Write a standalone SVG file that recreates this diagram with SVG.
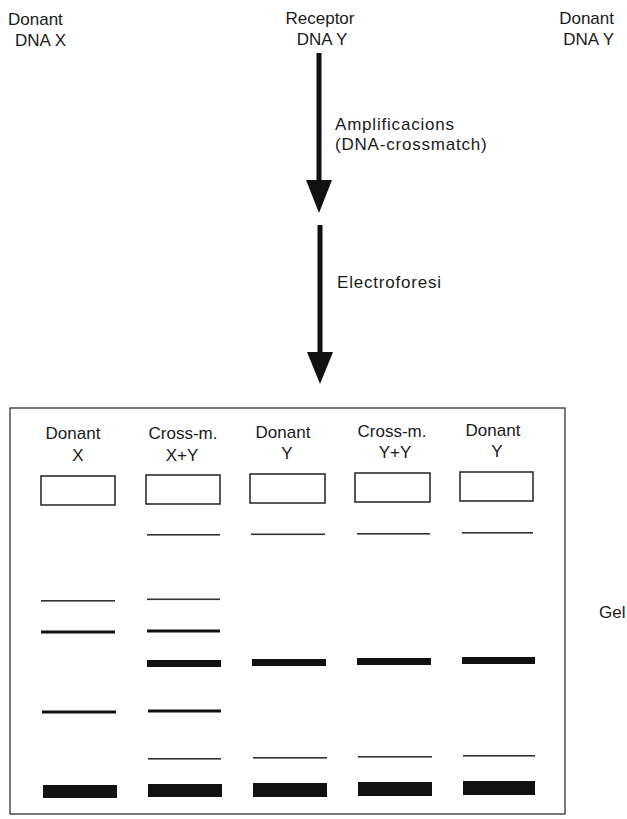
<svg xmlns="http://www.w3.org/2000/svg" width="627" height="819" viewBox="0 0 627 819">
<style>
text{font-family:"Liberation Sans",Arial,sans-serif;font-size:17px;fill:#1a1a1a}
.lbl{letter-spacing:0.8px}
.mid{text-anchor:middle}
.end{text-anchor:end}
.shaft{stroke:#111;stroke-width:5;fill:none}
.head{fill:#111}
.frame{fill:none;stroke:#333;stroke-width:1.3}
.well{fill:#fff;stroke:#222;stroke-width:1.5}
.thin{fill:#333}
.band{fill:#111}
</style>
<rect width="627" height="819" fill="#fff"/>
<g id="donorX">
<text x="8" y="25">Donant</text>
<text x="15" y="46">DNA X</text>
</g>
<g id="receptorY">
<text class="mid" x="320" y="24">Receptor</text>
<text class="mid" x="322" y="45">DNA Y</text>
</g>
<g id="donorY">
<text class="end" x="614" y="24">Donant</text>
<text class="end" x="614" y="45">DNA Y</text>
</g>
<g id="connectors">
<line class="shaft" x1="319" y1="53" x2="319" y2="182"/>
<polygon class="head" points="306,180 332,180 319,213"/>
<line class="shaft" x1="320" y1="225" x2="320" y2="354"/>
<polygon class="head" points="307,352 333,352 320,384"/>
</g>
<g id="labels">
<text class="lbl" x="335" y="130">Amplificacions</text>
<text class="lbl" x="335" y="150">(DNA-crossmatch)</text>
<text class="lbl" x="337" y="288">Electroforesi</text>
</g>
<g id="gel">
<rect class="frame" x="10" y="408" width="555" height="406"/>
<text x="599" y="618">Gel</text>
</g>
<g id="lane1">
<text class="mid" x="73" y="439">Donant</text>
<text class="mid" x="78" y="461">X</text>
<rect class="well" x="41" y="476" width="74" height="29"/>
<rect class="thin" x="41" y="600" width="74" height="1.6"/>
<rect class="band" x="41" y="630.5" width="74" height="3"/>
<rect class="band" x="42" y="710.5" width="74" height="3"/>
<rect class="band" x="43" y="785" width="74" height="13"/>
</g>
<g id="lane2">
<text class="mid" x="183" y="439">Cross-m.</text>
<text class="mid" x="182" y="461">X+Y</text>
<rect class="well" x="146" y="475" width="74" height="29"/>
<rect class="thin" x="147" y="534" width="73" height="1.6"/>
<rect class="thin" x="147" y="598.5" width="73" height="1.6"/>
<rect class="band" x="147" y="629.5" width="73" height="3"/>
<rect class="band" x="147" y="660" width="74" height="7"/>
<rect class="band" x="148" y="709.5" width="73" height="3"/>
<rect class="thin" x="148" y="758" width="73" height="1.6"/>
<rect class="band" x="148" y="784" width="74" height="13"/>
</g>
<g id="lane3">
<text class="mid" x="283" y="438">Donant</text>
<text class="mid" x="287" y="459">Y</text>
<rect class="well" x="250" y="474" width="75" height="29"/>
<rect class="thin" x="251" y="533.5" width="74" height="1.6"/>
<rect class="band" x="252" y="659" width="74" height="7"/>
<rect class="thin" x="253" y="757" width="74" height="1.6"/>
<rect class="band" x="253" y="783" width="74" height="14"/>
</g>
<g id="lane4">
<text class="mid" x="392" y="437">Cross-m.</text>
<text class="mid" x="395" y="458">Y+Y</text>
<rect class="well" x="355" y="473" width="75" height="29"/>
<rect class="thin" x="357" y="533" width="73" height="1.6"/>
<rect class="band" x="357" y="658" width="74" height="7"/>
<rect class="thin" x="358" y="756" width="74" height="1.6"/>
<rect class="band" x="358" y="782" width="74" height="14"/>
</g>
<g id="lane5">
<text class="mid" x="493" y="436">Donant</text>
<text class="mid" x="497" y="457">Y</text>
<rect class="well" x="460" y="472" width="73" height="29"/>
<rect class="thin" x="462" y="532" width="71" height="1.6"/>
<rect class="band" x="462" y="657" width="73" height="7"/>
<rect class="thin" x="463" y="755" width="72" height="1.6"/>
<rect class="band" x="463" y="781" width="72" height="14"/>
</g>
</svg>
